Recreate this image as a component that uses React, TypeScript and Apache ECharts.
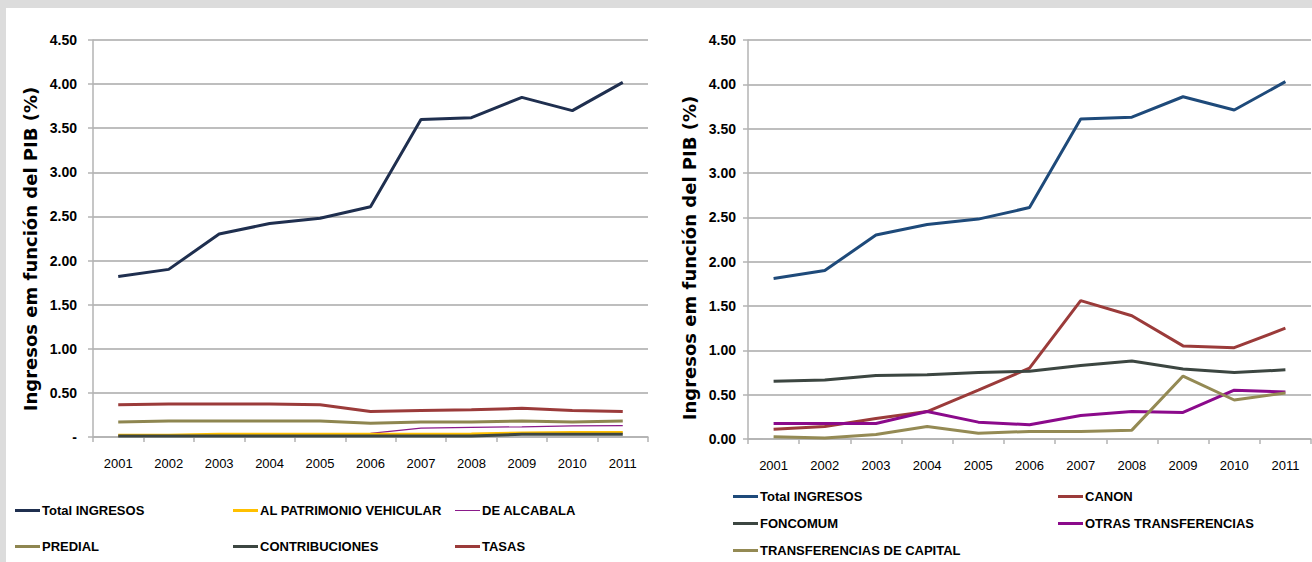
import React, { useEffect, useRef } from "react";
import * as echarts from "echarts";

const years = ["2001", "2002", "2003", "2004", "2005", "2006", "2007", "2008", "2009", "2010", "2011"];

// Left chart
const totalIngresos = [1.82, 1.9, 2.3, 2.42, 2.48, 2.61, 3.6, 3.62, 3.85, 3.7, 4.02];
const patrimonioVehicular = [0.02, 0.02, 0.03, 0.03, 0.03, 0.03, 0.03, 0.035, 0.045, 0.05, 0.05];
const deAlcabala = [0.01, 0.02, 0.02, 0.03, 0.035, 0.04, 0.1, 0.11, 0.115, 0.125, 0.13];
const predial = [0.17, 0.18, 0.18, 0.18, 0.18, 0.155, 0.17, 0.17, 0.18, 0.17, 0.18];
const contribuciones = [0.01, 0.01, 0.01, 0.01, 0.01, 0.01, 0.01, 0.01, 0.03, 0.03, 0.03];
const tasas = [0.365, 0.375, 0.375, 0.375, 0.365, 0.29, 0.3, 0.31, 0.325, 0.3, 0.29];

// Right chart
const totalIngresos2 = [1.81, 1.9, 2.3, 2.42, 2.48, 2.61, 3.61, 3.63, 3.86, 3.71, 4.03];
const canon = [0.11, 0.14, 0.23, 0.31, 0.55, 0.8, 1.56, 1.39, 1.05, 1.03, 1.25];
const foncomum = [0.65, 0.665, 0.715, 0.725, 0.75, 0.765, 0.83, 0.88, 0.79, 0.75, 0.78];
const otrasTransferencias = [0.175, 0.175, 0.175, 0.31, 0.19, 0.16, 0.265, 0.31, 0.3, 0.55, 0.53];
const transferenciasCapital = [0.026, 0.01, 0.05, 0.14, 0.065, 0.085, 0.085, 0.1, 0.71, 0.44, 0.52];

const AXIS_NAME = "Ingresos em función del PIB (%)";
const SANS = "'Liberation Sans', Arial, sans-serif";

export default function App() {
  const ref = useRef<HTMLDivElement>(null);
  useEffect(() => {
    if (!ref.current) return;
    const chart = echarts.init(ref.current, undefined, { renderer: "svg" });

    const mkLine = (name: string, data: number[], color: string, idx: number, width = 3, z = 2) => ({
      name,
      type: "line",
      xAxisIndex: idx,
      yAxisIndex: idx,
      data,
      symbol: "none",
      z,
      lineStyle: { color, width },
      itemStyle: { color },
    });

    const mkLegend = (name: string, left: number, top: number, h = 3) => ({
      data: [name],
      left,
      top: top - 7,
      padding: 0,
      itemWidth: 25,
      itemHeight: h,
      icon: "rect",
      selectedMode: false,
      formatter: (n: string) => n.replace(" (2)", ""),
      textStyle: {
        fontFamily: SANS,
        fontWeight: "bold",
        fontSize: 13,
        color: "#000",
        padding: [0, 0, 0, -3],
      },
    });

    const xAxisBase = (gridIndex: number) => ({
      type: "category",
      gridIndex,
      data: years,
      boundaryGap: true,
      axisLine: { show: true, lineStyle: { color: "#b3b3b3", width: 1.5 } },
      axisTick: { show: true, length: 5, lineStyle: { color: "#b3b3b3", width: 1.5 } },
      axisLabel: { fontFamily: SANS, fontSize: 13, color: "#000", margin: 20 },
    });

    const yAxisBase = (gridIndex: number, zeroDash: boolean) => ({
      type: "value",
      gridIndex,
      min: 0,
      max: 4.5,
      interval: 0.5,
      axisLine: { show: true, lineStyle: { color: "#b3b3b3", width: 1.5 } },
      axisTick: { show: true, length: 5, lineStyle: { color: "#b3b3b3", width: 1.5 } },
      splitLine: { show: true, lineStyle: { color: "#a8a8a8", width: 1.5 } },
      axisLabel: {
        fontFamily: SANS,
        fontWeight: "bold",
        fontSize: 14,
        color: "#000",
        margin: gridIndex === 0 ? 16 : 12,
        formatter: (v: number) => (zeroDash && v === 0 ? "-" : v.toFixed(2)),
      },
    });

    const axisNameStyle = {
      text: AXIS_NAME,
      fontFamily: "'DejaVu Sans', Verdana, sans-serif",
      fontWeight: "bold",
      fontSize: 18,
      fill: "#000",
      align: "center",
      verticalAlign: "middle",
    };

    chart.setOption({
      animation: false,
      backgroundColor: "transparent",
      grid: [
        { left: 93, right: 664, top: 40, bottom: 125, containLabel: false },
        { left: 748, right: 1, top: 40, bottom: 123, containLabel: false },
      ],
      xAxis: [xAxisBase(0), xAxisBase(1)],
      yAxis: [yAxisBase(0, true), yAxisBase(1, false)],
      graphic: [
        { type: "text", x: 30, y: 249, rotation: Math.PI / 2, style: axisNameStyle },
        { type: "text", x: 689, y: 258, rotation: Math.PI / 2, style: axisNameStyle },
      ],
      legend: [
        mkLegend("Total INGRESOS", 15, 511),
        mkLegend("AL PATRIMONIO VEHICULAR", 233, 511),
        mkLegend("DE ALCABALA", 455, 511, 1),
        mkLegend("PREDIAL", 15, 547),
        mkLegend("CONTRIBUCIONES", 233, 547),
        mkLegend("TASAS", 455, 547),
        mkLegend("Total INGRESOS (2)", 733, 497),
        mkLegend("CANON", 1058, 497),
        mkLegend("FONCOMUM", 733, 524),
        mkLegend("OTRAS TRANSFERENCIAS", 1058, 524),
        mkLegend("TRANSFERENCIAS DE CAPITAL", 733, 551),
      ],
      series: [
        mkLine("Total INGRESOS", totalIngresos, "#1f2f4f", 0),
        mkLine("TASAS", tasas, "#9b3b3a", 0),
        mkLine("PREDIAL", predial, "#8e8650", 0),
        mkLine("DE ALCABALA", deAlcabala, "#8a1a8a", 0, 1.2),
        mkLine("AL PATRIMONIO VEHICULAR", patrimonioVehicular, "#ffc000", 0),
        mkLine("CONTRIBUCIONES", contribuciones, "#3c4641", 0),
        mkLine("Total INGRESOS (2)", totalIngresos2, "#1e4a7a", 1),
        mkLine("CANON", canon, "#9b3b3a", 1),
        mkLine("FONCOMUM", foncomum, "#3c4641", 1),
        mkLine("OTRAS TRANSFERENCIAS", otrasTransferencias, "#8b0a8b", 1),
        mkLine("TRANSFERENCIAS DE CAPITAL", transferenciasCapital, "#948a54", 1),
      ],
    });
    return () => chart.dispose();
  }, []);

  return (
    <div style={{ position: "fixed", left: 0, top: 0, width: 1312, height: 562, background: "#dcdcdc" }}>
      <div style={{ position: "absolute", left: 6, top: 8, right: 0, bottom: 0, background: "#ffffff" }} />
      <div ref={ref} style={{ position: "absolute", left: 0, top: 0, width: 1312, height: 562 }} />
    </div>
  );
}
